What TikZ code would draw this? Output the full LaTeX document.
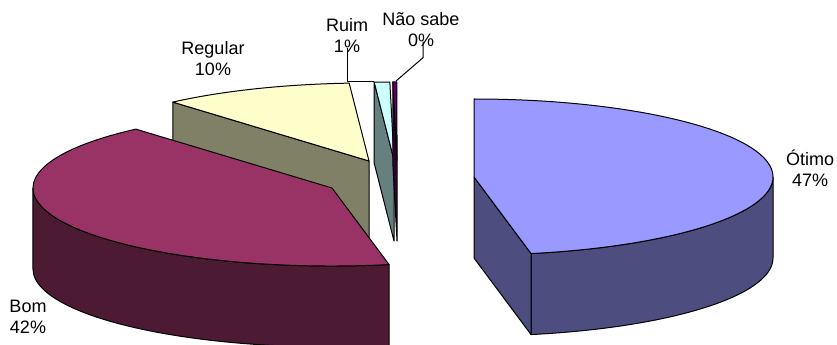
\documentclass[tikz,border=0pt]{standalone}
\usepackage{fontspec}
\setmainfont{Liberation Sans}
\usepackage{tikz}

\definecolor{otimoTop}{HTML}{9999FF}
\definecolor{otimoSide}{HTML}{4D4D80}
\definecolor{bomTop}{HTML}{993366}
\definecolor{bomSide}{HTML}{4D1A33}
\definecolor{regTop}{HTML}{FFFFCC}
\definecolor{regSide}{HTML}{808066}
\definecolor{ruimTop}{HTML}{CCFFFF}
\definecolor{ruimSide}{HTML}{668080}
\definecolor{naoTop}{HTML}{660066}
\definecolor{naoSide}{HTML}{330033}

\begin{document}
\begin{tikzpicture}[x=0.75pt,y=0.75pt,yscale=-1,xscale=1,
  slice/.style={draw=black,line width=0.75pt,line join=round},
  lbl/.style={inner sep=0.75pt,align=center,font=\fontsize{13.5}{15.75}\selectfont},
  leader/.style={draw=black,line width=0.75pt},
  rim/.style={x radius=299,y radius=78}]
\useasboundingbox (0,0) rectangle (837,345);

%Shape: Regular side
\draw [slice,fill=regSide] (369,161) -- (172.8,102.1) -- ++(0,81) -- (369,242) -- cycle ;
%Shape: Regular top
\draw [slice,fill=regTop] (369,161) -- (172.8,102.1) arc [start angle=-131,end angle=-93.8,rim] -- cycle ;

%Shape: Ruim side
\draw [slice,fill=ruimSide] (394,160) -- (374.2,82.2) -- ++(0,81) -- (394,241) -- cycle ;
%Shape: Ruim top
\draw [slice,fill=ruimTop] (394,160) -- (374.2,82.2) arc [start angle=-93.8,end angle=-90.8,rim] -- cycle ;

%Shape: Nao sabe side
\draw [slice,fill=naoSide] (397,160) -- (392.8,82) -- ++(0,81) -- (397,241) -- cycle ;
%Shape: Nao sabe top
\draw [slice,fill=naoTop] (397,160) -- (392.8,82) arc [start angle=-90.8,end angle=-90,rim] -- cycle ;

%Shape: Bom side
\draw [slice,fill=bomSide] (389.05,264.57) arc [start angle=79,end angle=180,rim] -- ++(0,81) arc [start angle=180,end angle=79,rim] -- cycle ;
%Shape: Bom top
\draw [slice,fill=bomTop] (332,188) -- (389.05,264.57) arc [start angle=79,end angle=229,rim] -- cycle ;

%Shape: Otimo side
\draw [slice,fill=otimoSide] (773,177) arc [start angle=0,end angle=79,rim] -- ++(0,81) arc [start angle=79,end angle=0,rim] -- cycle ;
%Shape: Otimo cut face
\draw [slice,fill=otimoSide] (474,177) -- (531.05,253.57) -- ++(0,81) -- (474,258) -- cycle ;
%Shape: Otimo top
\draw [slice,fill=otimoTop] (474,177) -- (474,99) arc [start angle=-90,end angle=79,rim] -- cycle ;

% Text Node
\draw (810,168) node (otimolbl) [lbl] {Ótimo\\47\%};
% Text Node
\draw (28,317) node (bomlbl) [lbl] {Bom\\42\%};
% Text Node
\draw (213,59) node (regularlbl) [lbl] {Regular\\10\%};
% Text Node
\draw (347,36) node (ruimlbl) [lbl] {Ruim\\1\%};
% Text Node
\draw (421,30) node (naolbl) [lbl] {Não sabe\\0\%};

%Straight Lines: leaders
\coordinate (ruimpt) at (374.2,81.5);
\coordinate (naopt) at (396,81);
\draw [leader] ([yshift=-4.5pt]ruimlbl.south) |- (ruimpt) ;
\draw [leader] ([xshift=1.5pt,yshift=-5pt]naolbl.south) -- ++(0,16) -- (naopt) ;

\end{tikzpicture}
\end{document}
